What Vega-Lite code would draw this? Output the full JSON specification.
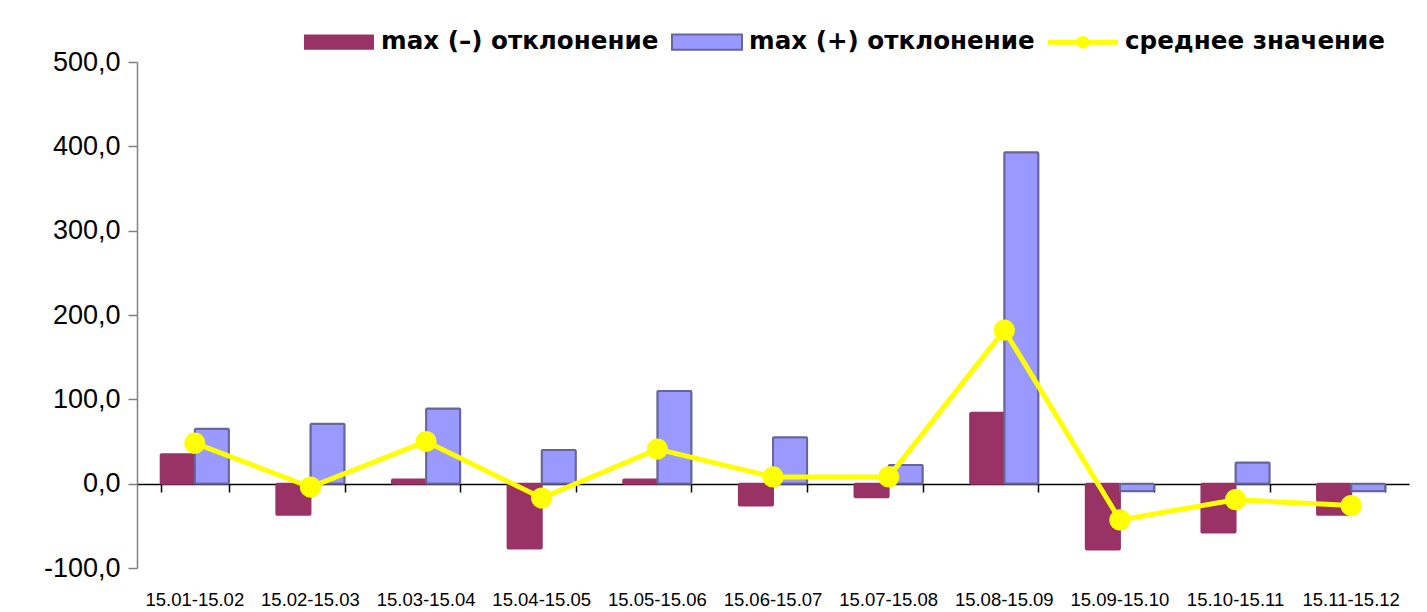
{
  "$schema": "https://vega.github.io/schema/vega-lite/v6.json",
  "width": 1272,
  "height": 506,
  "autosize": {"type": "none"},
  "padding": {"left": 137, "top": 62, "right": 18, "bottom": 44},
  "background": "white",
  "config": {"view": {"stroke": null}, "font": "Liberation Sans"},
  "datasets": {
    "bars": [
      {"period": "15.01-15.02", "series": "max (–) отклонение", "value": 35},
      {"period": "15.01-15.02", "series": "max (+) отклонение", "value": 65},
      {"period": "15.02-15.03", "series": "max (–) отклонение", "value": -37},
      {"period": "15.02-15.03", "series": "max (+) отклонение", "value": 71},
      {"period": "15.03-15.04", "series": "max (–) отклонение", "value": 5},
      {"period": "15.03-15.04", "series": "max (+) отклонение", "value": 89},
      {"period": "15.04-15.05", "series": "max (–) отклонение", "value": -77},
      {"period": "15.04-15.05", "series": "max (+) отклонение", "value": 40},
      {"period": "15.05-15.06", "series": "max (–) отклонение", "value": 5},
      {"period": "15.05-15.06", "series": "max (+) отклонение", "value": 110},
      {"period": "15.06-15.07", "series": "max (–) отклонение", "value": -26},
      {"period": "15.06-15.07", "series": "max (+) отклонение", "value": 55},
      {"period": "15.07-15.08", "series": "max (–) отклонение", "value": -16},
      {"period": "15.07-15.08", "series": "max (+) отклонение", "value": 22},
      {"period": "15.08-15.09", "series": "max (–) отклонение", "value": 84},
      {"period": "15.08-15.09", "series": "max (+) отклонение", "value": 393},
      {"period": "15.09-15.10", "series": "max (–) отклонение", "value": -78},
      {"period": "15.09-15.10", "series": "max (+) отклонение", "value": -9},
      {"period": "15.10-15.11", "series": "max (–) отклонение", "value": -58},
      {"period": "15.10-15.11", "series": "max (+) отклонение", "value": 25},
      {"period": "15.11-15.12", "series": "max (–) отклонение", "value": -37},
      {"period": "15.11-15.12", "series": "max (+) отклонение", "value": -9}
    ],
    "avg": [
      {"period": "15.01-15.02", "value": 48},
      {"period": "15.02-15.03", "value": -4},
      {"period": "15.03-15.04", "value": 50},
      {"period": "15.04-15.05", "value": -17},
      {"period": "15.05-15.06", "value": 41},
      {"period": "15.06-15.07", "value": 8},
      {"period": "15.07-15.08", "value": 8},
      {"period": "15.08-15.09", "value": 182},
      {"period": "15.09-15.10", "value": -43},
      {"period": "15.10-15.11", "value": -19},
      {"period": "15.11-15.12", "value": -26}
    ]
  },
  "resolve": {"axis": {"x": "independent"}},
  "layer": [
    {
      "data": {"name": "bars"},
      "mark": {"type": "bar", "strokeWidth": 2, "cornerRadius": 1},
      "encoding": {
        "x": {
          "field": "period", "type": "nominal", "sort": null,
          "scale": {"paddingInner": 0.41, "paddingOuter": 0.205},
          "axis": {"orient": "bottom", "domain": false, "ticks": false, "labelAngle": 0, "labelFontSize": 18.5, "labelColor": "black", "labelPadding": 22, "title": null, "grid": false}
        },
        "xOffset": {"field": "series", "type": "nominal", "sort": ["max (–) отклонение", "max (+) отклонение"], "scale": {"paddingInner": 0, "paddingOuter": 0}},
        "y": {
          "field": "value", "type": "quantitative",
          "scale": {"domain": [-100, 500], "nice": false},
          "axis": {
            "values": [-100, 0, 100, 200, 300, 400, 500],
            "labelExpr": "(datum.value < 0 ? '-' : '') + replace(format(abs(datum.value), '.1f'), '.', ',')",
            "labelFontSize": 27, "labelColor": "black", "labelPadding": 8,
            "domainColor": "#808080", "domainWidth": 1.5, "tickColor": "#808080", "tickSize": 9, "tickWidth": 1.5,
            "grid": false, "title": null
          }
        },
        "color": {
          "field": "series", "type": "nominal",
          "scale": {"domain": ["max (–) отклонение", "max (+) отклонение", "среднее значение"], "range": ["#993366", "#9999FF", "#FFFF00"]},
          "legend": {
            "orient": "none", "direction": "horizontal", "title": null,
            "legendX": 166, "legendY": -56, "padding": 0,
            "symbolSize": 4900, "labelOffset": 6, "columnPadding": 9,
            "symbolType": {"expr": "datum.value === 'среднее значение' ? 'M-1,-0.07H1V0.07H-1Z M0.18,0A0.18,0.18 0 1,1 -0.18,0A0.18,0.18 0 1,1 0.18,0Z' : 'M-1,-0.22H1V0.22H-1Z'"},
            "symbolStrokeColor": {"expr": "datum.value === 'max (+) отклонение' ? '#666699' : 'transparent'"},
            "symbolStrokeWidth": 2,
            "symbolOpacity": 1,
            "labelFont": "DejaVu Sans", "labelFontWeight": "bold", "labelFontSize": 24.6, "labelColor": "black", "labelLimit": 500
          }
        },
        "stroke": {
          "field": "series", "type": "nominal",
          "scale": {"domain": ["max (–) отклонение", "max (+) отклонение"], "range": ["#993366", "#666699"]},
          "legend": null
        },
        "opacity": {"value": 1}
      }
    },
    {
      "data": {"name": "avg"},
      "mark": {"type": "line", "color": "#FFFF00", "strokeWidth": 5, "point": {"filled": true, "size": 450, "color": "#FFFF00", "opacity": 1}},
      "encoding": {
        "x": {
          "field": "period", "type": "nominal", "sort": null,
          "axis": {"orient": "bottom", "offset": -84, "labels": false, "domain": true, "domainColor": "black", "domainWidth": 1.5, "ticks": true, "tickColor": "black", "tickBand": "extent", "tickSize": 8, "tickWidth": 1.5, "title": null, "grid": false}
        },
        "y": {"field": "value", "type": "quantitative"}
      }
    }
  ]
}
